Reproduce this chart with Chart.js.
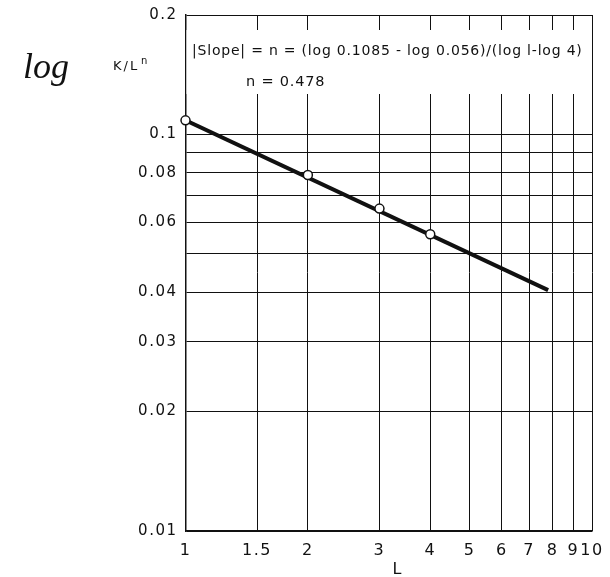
<!DOCTYPE html>
<html>
<head>
<meta charset="utf-8">
<script src="https://cdn.jsdelivr.net/npm/chart.js@4/dist/chart.umd.min.js"></script>
<style>
  html, body { margin: 0; padding: 0; background: #fff; }
  #wrap { width: 610px; height: 577px; position: relative; }
</style>
</head>
<body>
<div id="wrap"><canvas id="c"></canvas></div>
<script>
// ---- data ----
const measuredL = [1, 2, 3, 4];
const measuredK = [0.1085, 0.079, 0.065, 0.056];
const fitL = [1, 7.8];
const fitK = [0.1085, 0.0405];

const xTickValues = [1, 1.5, 2, 3, 4, 5, 6, 7, 8, 9, 10];
const xTickLabels = ['1', '1.5', '2', '3', '4', '5', '6', '7', '8', '9', '10'];
const yTickValues = [0.01, 0.02, 0.03, 0.04, 0.05, 0.06, 0.07, 0.08, 0.09, 0.1, 0.2];
const yTickLabels = ['0.01', '0.02', '0.03', '0.04', '', '0.06', '', '0.08', '', '0.1', '0.2'];

const annotationLine1 = '|Slope| = n = (log 0.1085 - log 0.056)/(log l-log 4)';
const annotationLine2 = 'n = 0.478';
const yTitleMain = 'K/L';
const yTitleSup = 'n';
const yTitlePrefix = 'log';
const xTitle = 'L';

const INK = '#111';
const FONT = '"DejaVu Sans", sans-serif';

const pts = measuredL.map((x, i) => ({ x: x, y: measuredK[i] }));
const fitPts = fitL.map((x, i) => ({ x: x, y: fitK[i] }));

const decor = {
  id: 'decor',
  beforeDraw(chart) {
    chart.ctx.letterSpacing = '1.5px';
  },
  beforeDatasetsDraw(chart) {
    const ctx = chart.ctx;
    const a = chart.chartArea;
    ctx.save();
    // white panel behind annotation text
    ctx.fillStyle = '#fff';
    ctx.fillRect(a.left + 1, 30, a.right - a.left - 6, 64);
    ctx.fillStyle = INK;
    ctx.textBaseline = 'alphabetic';
    ctx.textAlign = 'left';
    ctx.letterSpacing = '0.8px';
    ctx.font = '14px ' + FONT;
    ctx.fillText(annotationLine1, 192, 55);
    ctx.font = '14.5px ' + FONT;
    ctx.fillText(annotationLine2, 246, 86);
    ctx.restore();
  },
  afterDraw(chart) {
    const ctx = chart.ctx;
    ctx.save();
    ctx.fillStyle = INK;
    ctx.textAlign = 'left';
    ctx.letterSpacing = '2px';
    ctx.font = '13px ' + FONT;
    ctx.fillText(yTitleMain, 113, 70);
    ctx.letterSpacing = '0px';
    ctx.font = '10px ' + FONT;
    ctx.fillText(yTitleSup, 141, 64);
    ctx.font = 'italic 36px "Liberation Serif", serif';
    ctx.fillText(yTitlePrefix, 23, 78);
    ctx.font = '16px ' + FONT;
    ctx.textAlign = 'center';
    ctx.fillText(xTitle, 397, 574);
    ctx.restore();
  }
};

new Chart(document.getElementById('c'), {
  type: 'scatter',
  data: {
    datasets: [
      {
        label: 'fit',
        data: fitPts,
        showLine: true,
        borderColor: INK,
        borderWidth: 4,
        pointRadius: 0,
        pointHoverRadius: 0,
        order: 2
      },
      {
        label: 'measured',
        data: pts,
        showLine: false,
        pointStyle: 'circle',
        pointRadius: 4.5,
        pointBorderWidth: 1.5,
        pointBackgroundColor: '#fff',
        pointBorderColor: INK,
        clip: false,
        order: 1
      }
    ]
  },
  plugins: [decor],
  options: {
    responsive: true,
    maintainAspectRatio: false,
    animation: false,
    events: [],
    layout: { padding: { left: 0, right: 18, top: 15, bottom: 0 } },
    plugins: {
      legend: { display: false },
      tooltip: { enabled: false },
      title: { display: false }
    },
    scales: {
      x: {
        type: 'logarithmic',
        min: 1,
        max: 10,
        afterBuildTicks(scale) {
          scale.ticks = xTickValues.map(v => ({ value: v }));
        },
        afterFit(scale) {
          scale.height = 46;
          scale.paddingLeft = 0;
          scale.paddingRight = 0;
        },
        ticks: {
          autoSkip: false,
          maxRotation: 0,
          color: INK,
          padding: 10,
          font: { family: FONT, size: 16 },
          callback(value) {
            const i = xTickValues.indexOf(value);
            return i >= 0 ? xTickLabels[i] : '';
          }
        },
        grid: { color: INK, lineWidth: 1, drawTicks: false },
        border: { color: INK, width: 1.5 }
      },
      y: {
        type: 'logarithmic',
        min: 0.01,
        max: 0.2,
        afterBuildTicks(scale) {
          scale.ticks = yTickValues.map(v => ({ value: v }));
        },
        afterFit(scale) {
          scale.width = 185.5;
          scale.paddingTop = 0;
          scale.paddingBottom = 0;
        },
        ticks: {
          autoSkip: false,
          color: INK,
          padding: 8,
          font: { family: FONT, size: 15 },
          callback(value) {
            const i = yTickValues.findIndex(v => Math.abs(v - value) < 1e-9);
            return i >= 0 ? yTickLabels[i] : '';
          }
        },
        grid: { color: INK, lineWidth: 1, drawTicks: false },
        border: { color: INK, width: 1.5 }
      }
    }
  }
});
</script>
</body>
</html>
